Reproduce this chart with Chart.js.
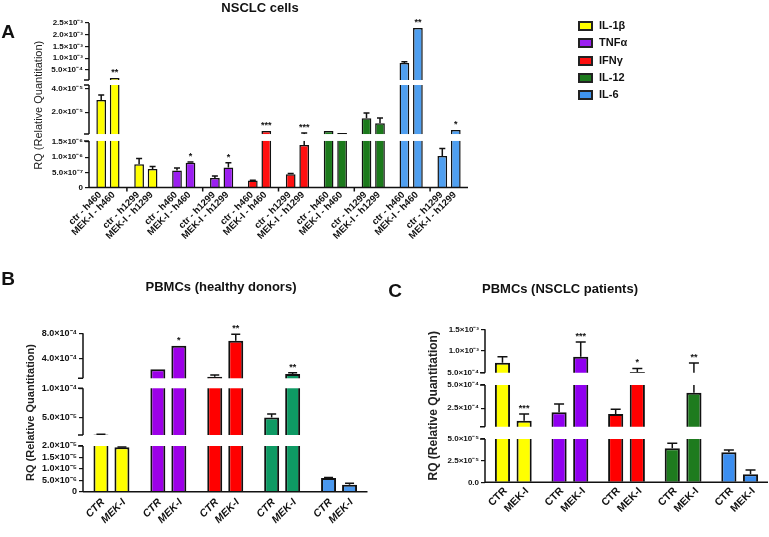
<!DOCTYPE html>
<html>
<head>
<meta charset="utf-8">
<script src="https://cdn.jsdelivr.net/npm/chart.js@4.4.0/dist/chart.umd.min.js"></script>
<style>
  body { margin: 0; background: #fff; font-family: "Liberation Sans", Arial, sans-serif; }
  #wrap { position: relative; width: 769px; height: 537px; overflow: hidden; background: #fff; }
  canvas { position: absolute; left: 0; top: 0; }
  .t { position: absolute; font-weight: bold; color: #111; white-space: nowrap; transform: translate(-50%, -50%); }
  .letter { font-size: 19px; }
  .title { font-size: 13px; }
  .leg { position: absolute; left: 578px; font-size: 11px; font-weight: bold; color: #111; }
  .leg span { display: inline-block; width: 11px; height: 6px; border: 2px solid #222; vertical-align: middle; margin-right: 6px; }
</style>
</head>
<body>
<div id="wrap">
  <canvas id="chartA" width="769" height="537"></canvas>
  <canvas id="chartB" width="769" height="537"></canvas>
  <canvas id="chartC" width="769" height="537"></canvas>
  <div class="t letter" style="left:8px;top:32px">A</div>
  <div class="t letter" style="left:8px;top:279px">B</div>
  <div class="t letter" style="left:395px;top:291px">C</div>
  <div class="t title" style="left:260px;top:7px">NSCLC cells</div>
  <div class="t title" style="left:221px;top:286px">PBMCs (healthy donors)</div>
  <div class="t title" style="left:560px;top:288px">PBMCs (NSCLC patients)</div>
  <div id="legend"></div>
</div>
<script>
// ---- legend ----
const legendNames = ['IL-1β', 'TNFα', 'IFNγ', 'IL-12', 'IL-6'];
const legendColors = ['#ffff00', '#9b1ff0', '#ff1010', '#1c7a1c', '#3f94ef'];
const legendY = [26, 43, 61, 78, 95];

// ---- panel A: NSCLC cells ----
const aCtrLabels = ['ctr - h460', 'ctr - h1299', 'ctr - h460', 'ctr - h1299', 'ctr - h460',
  'ctr - h1299', 'ctr - h460', 'ctr - h1299', 'ctr - h460', 'ctr - h1299'];
const aMekLabels = ['MEK-I - h460', 'MEK-I - h1299', 'MEK-I - h460', 'MEK-I - h1299', 'MEK-I - h460',
  'MEK-I - h1299', 'MEK-I - h460', 'MEK-I - h1299', 'MEK-I - h460', 'MEK-I - h1299'];
const aCtr = [3.04e-5, 7.7e-7, 5.6e-7, 3.1e-7, 2.3e-7, 4.4e-7, 4.1e-6, 1.49e-5, 8.0e-4, 1.04e-6];
const aCtrErr = [4.2e-6, 1.9e-7, 0.8e-7, 0.7e-7, 0.1e-7, 0.2e-7, 0, 4.5e-6, 0.5e-4, 2.5e-7];
const aMek = [1.6e-4, 6.1e-7, 8.2e-7, 6.6e-7, 4.1e-6, 1.40e-6, 2.45e-6, 1.07e-5, 2.29e-3, 5.0e-6];
const aMekErr = [0, 0.8e-7, 0.2e-7, 1.6e-7, 0, 1.05e-6, 0, 4.5e-6, 0, 0];
const aStars = ['**', '', '*', '*', '***', '***', '', '', '**', '*'];
const aColors = ['#ffff00', '#ffff00', '#9b1ff0', '#9b1ff0', '#ff1010', '#ff1010', '#1c7a1c', '#1c7a1c', '#4f9ff0', '#4f9ff0'];
const aTicks = [0, 5e-7, 1e-6, 1.5e-6, 2e-5, 4e-5, 5e-4, 1e-3, 1.5e-3, 2e-3, 2.5e-3];
const aTickSegs = [0, 0, 0, 0, 1, 1, 2, 2, 2, 2, 2];
const aTickText = ['0', '5.0×10⁻⁷', '1.0×10⁻⁶', '1.5×10⁻⁶', '2.0×10⁻⁵', '4.0×10⁻⁵',
  '5.0×10⁻⁴', '1.0×10⁻³', '1.5×10⁻³', '2.0×10⁻³', '2.5×10⁻³'];

// ---- panel B: PBMCs healthy donors ----
const bCats = ['IL-1β', 'TNFα', 'IFNγ', 'IL-12', 'IL-6'];
const bCtr = [2.1e-5, 2.4e-4, 1.25e-4, 5.0e-5, 6.0e-6];
const bCtrErr = [0.1e-6, 0, 0.25e-4, 0.6e-5, 0.2e-6];
const bMek = [1.95e-5, 6.07e-4, 6.85e-4, 1.67e-4, 3.0e-6];
const bMekErr = [0.1e-6, 0, 1.0e-4, 0.2e-4, 0.7e-6];
const bStars = ['', '*', '**', '**', ''];
const bColors = ['#ffff00', '#9d00e8', '#ff0000', '#0e9a64', '#4a98ee'];
const bTicks = [0, 5e-6, 1e-5, 1.5e-5, 2e-5, 5e-5, 1e-4, 4e-4, 8e-4];
const bTickSegs = [0, 0, 0, 0, 0, 1, 1, 2, 2];
const bTickText = ['0', '5.0×10⁻⁶', '1.0×10⁻⁵', '1.5×10⁻⁵', '2.0×10⁻⁵', '5.0×10⁻⁵', '1.0×10⁻⁴', '4.0×10⁻⁴', '8.0×10⁻⁴'];

// ---- panel C: PBMCs NSCLC patients ----
const cCats = ['IL-1β', 'TNFα', 'IFNγ', 'IL-12', 'IL-6'];
const cCtr = [7.3e-4, 2.05e-4, 1.87e-4, 3.93e-5, 3.46e-5];
const cCtrErr = [1.4e-4, 0.9e-4, 0.53e-4, 0.57e-5, 0.27e-5];
const cMek = [1.15e-4, 8.7e-4, 5.2e-4, 4.17e-4, 9.2e-6];
const cMekErr = [0.72e-4, 3.4e-4, 0.8e-4, 3.1e-4, 5.0e-6];
const cStars = ['***', '***', '*', '**', ''];
const cColors = ['#ffff00', '#9000f0', '#ff0000', '#1e7b1e', '#3b8ef0'];
const cTicks = [0, 2.5e-5, 5e-5, 2.5e-4, 5e-4, 5e-4, 1e-3, 1.5e-3];
const cTickSegs = [0, 0, 0, 1, 1, 2, 2, 2];
const cTickText = ['0.0', '2.5×10⁻⁵', '5.0×10⁻⁵', '2.5×10⁻⁴', '5.0×10⁻⁴', '5.0×10⁻⁴', '1.0×10⁻³', '1.5×10⁻³'];

// legend
document.getElementById('legend').innerHTML = legendNames.map((n, i) =>
  '<div class="leg" style="top:' + (legendY[i] - 7) + 'px"><span style="background:' + legendColors[i] + '"></span>' + n + '</div>'
).join('');

// y scale with broken segments (lo/hi = fraction of axis height from bottom)
class BrokenScale extends Chart.LinearScale {
  determineDataLimits() {
    const segs = this.options.segments;
    this.min = segs[0].min;
    this.max = segs[segs.length - 1].max;
  }
  buildTicks() {
    const vals = this.options.tickValues, sg = this.options.tickSegs;
    return vals.map((v, i) => ({ value: v, seg: sg[i] }));
  }
  pixelInSeg(v, k) {
    const s = this.options.segments[k];
    const f = s.lo + (v - s.min) / (s.max - s.min) * (s.hi - s.lo);
    return this.bottom - f * (this.bottom - this.top);
  }
  getPixelForValue(v) {
    const segs = this.options.segments;
    for (let k = 0; k < segs.length; k++) {
      const s = segs[k];
      if (v <= s.max) {
        if (v >= s.min || k === 0) return this.pixelInSeg(v, k);
        const p = segs[k - 1];
        const f = p.hi + (v - p.max) / (s.min - p.max) * (s.lo - p.hi);
        return this.bottom - f * (this.bottom - this.top);
      }
    }
    return this.pixelInSeg(v, segs.length - 1);
  }
  getPixelForTick(i) {
    const t = this.ticks[i];
    return this.pixelInSeg(t.value, t.seg);
  }
  getValueForPixel(p) {
    return this.min + (this.bottom - p) / (this.bottom - this.top) * (this.max - this.min);
  }
}
BrokenScale.id = 'broken';
BrokenScale.defaults = {};
Chart.register(BrokenScale);

// error bars, axis breaks, stars and rotated bar labels
const panelPlugin = {
  id: 'panel',
  afterDatasetsDraw(chart, args, opts) {
    const ctx = chart.ctx, ys = chart.scales.y, area = chart.chartArea;
    const segs = ys.options.segments;
    const h = ys.bottom - ys.top;
    ctx.save();
    ctx.strokeStyle = '#111';
    ctx.lineWidth = 1.5;
    // error bars
    chart.data.datasets.forEach((ds, di) => {
      chart.getDatasetMeta(di).data.forEach((bar, i) => {
        const e = ds.errors[i];
        if (!e) return;
        const yt = ys.getPixelForValue(ds.data[i] + e);
        ctx.beginPath();
        ctx.moveTo(bar.x, bar.y);
        ctx.lineTo(bar.x, yt);
        ctx.moveTo(bar.x - opts.capW / 2, yt);
        ctx.lineTo(bar.x + opts.capW / 2, yt);
        ctx.stroke();
      });
    });
    // white gaps at the breaks
    ctx.fillStyle = '#fff';
    for (let k = 1; k < segs.length; k++) {
      const yLow = ys.bottom - segs[k - 1].hi * h;
      const yHigh = ys.bottom - segs[k].lo * h;
      ctx.fillRect(area.left + 1, yHigh, area.right - area.left, yLow - yHigh);
    }
    // y axis pieces with end marks
    ctx.beginPath();
    segs.forEach((s, k) => {
      const y0 = ys.bottom - s.lo * h, y1 = ys.bottom - s.hi * h;
      ctx.moveTo(area.left, y0);
      ctx.lineTo(area.left, y1);
      if (k > 0) { ctx.moveTo(area.left - 5, y0); ctx.lineTo(area.left, y0); }
      if (k < segs.length - 1) { ctx.moveTo(area.left - 5, y1); ctx.lineTo(area.left, y1); }
    });
    // x axis
    ctx.moveTo(area.left, area.bottom);
    ctx.lineTo(area.right, area.bottom);
    if (opts.sepTicks) {
      const xs = chart.scales.x, n = chart.data.labels.length;
      for (let i = 1; i < n; i += 2) {
        const xx = (xs.getPixelForValue(i - 1) + xs.getPixelForValue(i)) / 2;
        ctx.moveTo(xx, area.bottom);
        ctx.lineTo(xx, area.bottom + 4);
      }
    }
    ctx.stroke();
    // stars
    ctx.fillStyle = '#111';
    ctx.font = 'bold 9px "Liberation Sans", Arial, sans-serif';
    ctx.textAlign = 'center';
    ctx.textBaseline = 'alphabetic';
    chart.data.datasets.forEach((ds, di) => {
      chart.getDatasetMeta(di).data.forEach((bar, i) => {
        const s = ds.stars[i];
        if (!s) return;
        const yt = ds.errors[i] ? ys.getPixelForValue(ds.data[i] + ds.errors[i]) : bar.y;
        ctx.fillText(s, bar.x, Math.min(yt, bar.y) - 3);
      });
    });
    // rotated bar labels
    ctx.font = opts.labelFont;
    ctx.textAlign = 'right';
    ctx.textBaseline = 'middle';
    chart.data.datasets.forEach((ds, di) => {
      chart.getDatasetMeta(di).data.forEach((bar, i) => {
        ctx.save();
        ctx.translate(bar.x + opts.labelDx, area.bottom + opts.labelDy);
        ctx.rotate(-Math.PI / 4);
        ctx.fillText(ds.barLabels[i], 0, 0);
        ctx.restore();
      });
    });
    ctx.restore();
  }
};

function makeChart(id, cfg) {
  return new Chart(document.getElementById(id), {
    type: 'bar',
    data: {
      labels: cfg.cats,
      datasets: [
        { label: 'CTR', data: cfg.ctr, errors: cfg.ctrErr, stars: cfg.cats.map(() => ''),
          barLabels: cfg.ctrLabels, backgroundColor: cfg.colors, borderColor: '#111', borderWidth: cfg.borderW,
          categoryPercentage: cfg.catPct, barPercentage: cfg.barPct },
        { label: 'MEK-I', data: cfg.mek, errors: cfg.mekErr, stars: cfg.stars,
          barLabels: cfg.mekLabels, backgroundColor: cfg.colors, borderColor: '#111', borderWidth: cfg.borderW,
          categoryPercentage: cfg.catPct, barPercentage: cfg.barPct }
      ]
    },
    options: {
      responsive: false,
      animation: false,
      layout: { padding: cfg.padding },
      plugins: {
        legend: { display: false },
        tooltip: { enabled: false },
        panel: { capW: cfg.capW, labelFont: cfg.labelFont, labelDx: cfg.labelDx, labelDy: cfg.labelDy, sepTicks: cfg.sepTicks }
      },
      scales: {
        x: {
          type: 'category', offset: true,
          grid: { display: false }, ticks: { display: false }, border: { display: false },
          afterFit: s => { s.height = 0; }
        },
        y: {
          type: 'broken',
          segments: cfg.segments, tickValues: cfg.ticks, tickSegs: cfg.tickSegs,
          border: { display: false },
          grid: { display: true, drawOnChartArea: false, drawTicks: true, tickLength: 4, color: '#111', lineWidth: 1.2 },
          ticks: {
            autoSkip: false, padding: 2, color: '#111',
            font: { family: '"Liberation Sans", Arial, sans-serif', size: cfg.tickSize, weight: 'bold' },
            callback: (v, i) => cfg.tickText[i]
          },
          title: { display: true, text: 'RQ (Relative Quantitation)', color: '#222',
            font: { family: '"Liberation Sans", Arial, sans-serif', size: cfg.yTitleSize, weight: cfg.yTitleWeight },
            padding: { top: 2, bottom: 0 } },
          afterFit: s => { s.width = cfg.yWidth; }
        }
      }
    },
    plugins: [panelPlugin]
  });
}

makeChart('chartA', {
  cats: aCtrLabels.map((l, i) => 'pair ' + i),
  ctr: aCtr, ctrErr: aCtrErr, mek: aMek, mekErr: aMekErr, stars: aStars,
  ctrLabels: aCtrLabels, mekLabels: aMekLabels, colors: aColors,
  catPct: 0.712, barPct: 0.72, capW: 6, borderW: 1.5, tickSize: 8,
  labelFont: 'bold 9.5px "Liberation Sans", Arial, sans-serif', labelDx: -1, labelDy: 6, sepTicks: true,
  padding: { left: 30, right: 301, top: 23, bottom: 349.5 }, yWidth: 59,
  yTitleSize: 11, yTitleWeight: 'normal',
  segments: [
    { min: 0, max: 1.535e-6, lo: 0, hi: 0.283 },
    { min: 1.6e-6, max: 4.3e-5, lo: 0.325, hi: 0.623 },
    { min: 7.5e-5, max: 2.5e-3, lo: 0.6535, hi: 1 }
  ],
  ticks: aTicks, tickSegs: aTickSegs, tickText: aTickText
});

makeChart('chartB', {
  cats: bCats,
  ctr: bCtr, ctrErr: bCtrErr, mek: bMek, mekErr: bMekErr, stars: bStars,
  ctrLabels: bCats.map(() => 'CTR'), mekLabels: bCats.map(() => 'MEK-I'), colors: bColors,
  catPct: 0.738, barPct: 0.714, capW: 9, borderW: 2, tickSize: 9,
  labelFont: 'italic bold 10.5px "Liberation Sans", Arial, sans-serif', labelDx: 2, labelDy: 9, sepTicks: false,
  padding: { left: 22, right: 401.5, top: 333.3, bottom: 45.3 }, yWidth: 61,
  yTitleSize: 11, yTitleWeight: 'bold',
  segments: [
    { min: 0, max: 2e-5, lo: 0, hi: 0.2885 },
    { min: 2e-5, max: 1e-4, lo: 0.358, hi: 0.653 },
    { min: 1e-4, max: 8e-4, lo: 0.716, hi: 1 }
  ],
  ticks: bTicks, tickSegs: bTickSegs, tickText: bTickText
});

makeChart('chartC', {
  cats: cCats,
  ctr: cCtr, ctrErr: cCtrErr, mek: cMek, mekErr: cMekErr, stars: cStars,
  ctrLabels: cCats.map(() => 'CTR'), mekLabels: cCats.map(() => 'MEK-I'), colors: cColors,
  catPct: 0.765, barPct: 0.70, capW: 10, borderW: 2, tickSize: 8,
  labelFont: 'bold 10.5px "Liberation Sans", Arial, sans-serif', labelDx: 3, labelDy: 7, sepTicks: false,
  padding: { left: 424, right: 1, top: 329.3, bottom: 54.7 }, yWidth: 61,
  yTitleSize: 12, yTitleWeight: 'bold',
  segments: [
    { min: 0, max: 5e-5, lo: 0, hi: 0.283 },
    { min: 5e-5, max: 5e-4, lo: 0.363, hi: 0.636 },
    { min: 5e-4, max: 1.5e-3, lo: 0.716, hi: 1 }
  ],
  ticks: cTicks, tickSegs: cTickSegs, tickText: cTickText
});
</script>
</body>
</html>
